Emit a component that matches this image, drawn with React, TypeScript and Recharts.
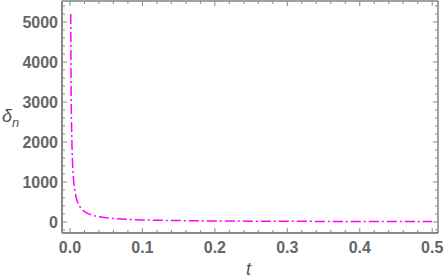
import { LineChart, Line, XAxis, YAxis } from "recharts";

// values
const tValues = [
  0.001, 0.0015, 0.002, 0.003, 0.004, 0.005, 0.006, 0.008, 0.01, 0.013, 0.016,
  0.02, 0.025, 0.03, 0.04, 0.05, 0.06, 0.08, 0.1, 0.13, 0.16, 0.2, 0.25, 0.3,
  0.35, 0.4, 0.45, 0.5,
];
const deltaValues = [
  5200, 3470, 2600, 1730, 1300, 1040, 870, 650, 520, 400, 325, 260, 208, 173,
  130, 104, 87, 65, 52, 40, 33, 26, 21, 17, 15, 13, 12, 10,
];

const xMajor = [0, 0.1, 0.2, 0.3, 0.4, 0.5];
const xMinor = [
  0.02, 0.04, 0.06, 0.08, 0.12, 0.14, 0.16, 0.18, 0.22, 0.24, 0.26, 0.28, 0.32,
  0.34, 0.36, 0.38, 0.42, 0.44, 0.46, 0.48,
];
const yMajor = [0, 1000, 2000, 3000, 4000, 5000];
const yMinor = [
  -200, 200, 400, 600, 800, 1200, 1400, 1600, 1800, 2200, 2400, 2600, 2800,
  3200, 3400, 3600, 3800, 4200, 4400, 4600, 4800, 5200, 5400,
];

const data = tValues.map((t, i) => ({ t, delta: deltaValues[i] }));

const xTicks = [...xMajor, ...xMinor];
const yTicks = [...yMajor, ...yMinor];

const LABEL = "#666";
const FONT = "'Liberation Sans', Arial, sans-serif";

const isXMajor = (v: number) => xMajor.some((m) => Math.abs(m - v) < 1e-9);
const isYMajor = (v: number) => yMajor.includes(v);

function BottomTick(props: any) {
  const { x, y, payload } = props;
  const major = isXMajor(payload.value);
  return (
    <g>
      <line x1={x} x2={x} y1={y} y2={y - (major ? 5 : 3)} stroke="#888" strokeWidth={1} />
      {major && (
        <text
          x={x}
          y={y + 14}
          textAnchor="middle"
          dominantBaseline="central"
          fill={LABEL}
          fontSize={16}
          fontWeight="bold"
          fontFamily={FONT}
        >
          {payload.value.toFixed(1)}
        </text>
      )}
    </g>
  );
}

function TopTick(props: any) {
  const { x, y, payload } = props;
  const major = isXMajor(payload.value);
  return <line x1={x} x2={x} y1={y} y2={y + (major ? 5 : 3)} stroke="#888" strokeWidth={1} />;
}

function LeftTick(props: any) {
  const { x, y, payload } = props;
  const major = isYMajor(payload.value);
  return (
    <g>
      <line x1={x} x2={x + (major ? 5 : 3)} y1={y} y2={y} stroke="#888" strokeWidth={1} />
      {major && (
        <text
          x={x - 4}
          y={y}
          textAnchor="end"
          dominantBaseline="central"
          fill={LABEL}
          fontSize={16}
          fontWeight="bold"
          fontFamily={FONT}
        >
          {payload.value}
        </text>
      )}
    </g>
  );
}

function RightTick(props: any) {
  const { x, y, payload } = props;
  const major = isYMajor(payload.value);
  return <line x1={x} x2={x - (major ? 5 : 3)} y1={y} y2={y} stroke="#888" strokeWidth={1} />;
}

export default function App() {
  return (
    <div style={{ position: "absolute", left: 0, top: 0, width: 445, height: 280, background: "#fff" }}>
      <LineChart width={445} height={280} data={data} margin={{ top: 0, right: 0, left: 0, bottom: 0 }}>
        <XAxis
          xAxisId="b"
          dataKey="t"
          type="number"
          domain={[-0.011, 0.508]}
          allowDataOverflow
          ticks={xTicks}
          interval={0}
          height={47}
          tickSize={0}
          tickMargin={0}
          tickLine={false}
          axisLine={{ stroke: "#888", strokeWidth: 2 }}
          tick={(p: any) => <BottomTick {...p} />}
        />
        <XAxis
          xAxisId="top"
          orientation="top"
          dataKey="t"
          type="number"
          domain={[-0.011, 0.508]}
          allowDataOverflow
          ticks={xTicks}
          interval={0}
          height={1}
          tickSize={0}
          tickMargin={0}
          tickLine={false}
          axisLine={{ stroke: "#444", strokeWidth: 1 }}
          tick={(p: any) => <TopTick {...p} />}
        />
        <YAxis
          yAxisId="l"
          type="number"
          domain={[-275, 5525]}
          allowDataOverflow
          ticks={yTicks}
          interval={0}
          width={62}
          tickSize={0}
          tickMargin={0}
          tickLine={false}
          axisLine={{ stroke: "#888", strokeWidth: 2 }}
          tick={(p: any) => <LeftTick {...p} />}
        />
        <YAxis
          yAxisId="r"
          orientation="right"
          type="number"
          domain={[-275, 5525]}
          allowDataOverflow
          ticks={yTicks}
          interval={0}
          width={7}
          tickSize={0}
          tickMargin={0}
          tickLine={false}
          axisLine={{ stroke: "#444", strokeWidth: 1 }}
          tick={(p: any) => <RightTick {...p} />}
        />
        <Line
          xAxisId="b"
          yAxisId="l"
          type="linear"
          dataKey="delta"
          stroke="#ff00ff"
          strokeWidth={1.5}
          strokeDasharray="10 3 2 3"
          dot={false}
          isAnimationActive={false}
        />
      </LineChart>
      <div
        style={{
          position: "absolute",
          left: 2,
          top: 106,
          fontFamily: FONT,
          fontStyle: "italic",
          fontSize: 18,
          color: "#555",
        }}
      >
        δ<sub style={{ fontSize: 13 }}>n</sub>
      </div>
      <div
        style={{
          position: "absolute",
          left: 246,
          top: 259,
          fontFamily: FONT,
          fontStyle: "italic",
          fontSize: 18,
          color: "#555",
        }}
      >
        t
      </div>
    </div>
  );
}
